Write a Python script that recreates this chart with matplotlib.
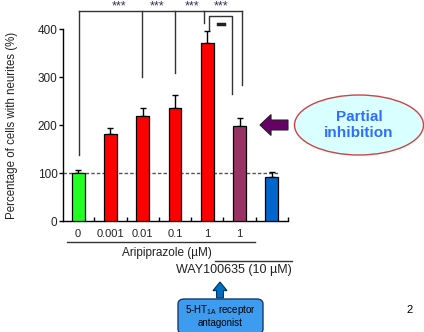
import matplotlib
matplotlib.use("Agg")
import matplotlib.pyplot as plt
from matplotlib.patches import Ellipse, FancyArrow, FancyBboxPatch
import numpy as np

plt.rcParams['font.family'] = ['Liberation Sans', 'DejaVu Sans']

# ---- data ----
categories = ["0", "0.001", "0.01", "0.1", "1", "1", ""]
values = [100, 181, 219, 235, 371, 198, 92]
errors = [6, 13, 17, 27, 25, 16, 10]
colors = ["#22ff22", "#ff0000", "#ff0000", "#ff0000", "#ff0000", "#993366", "#0066cc"]
baseline = 100
yticks = [0, 100, 200, 300, 400]

# significance brackets: (x positions, drop-to values), label positions
outer_top = 437
outer_drops_x = [0.03, 1.98, 3.0, 3.91, 5.06]
outer_drops_y = [137, 300, 308, 412, 283]
stars_x = [1.27, 2.44, 3.52, 4.44]
inner_top = 428
inner_x = [4.05, 4.78]
inner_drop_y = [398, 264]

W, H = 424, 332
fig = plt.figure(figsize=(W / 100, H / 100), dpi=100)

def fx(px):
    return px / W

def fy(py):
    return 1 - py / H

ax_left, ax_right, ax_bottom, ax_top = 63, 288, 221, 0
ax = fig.add_axes([fx(ax_left), fy(ax_bottom), fx(ax_right) - fx(ax_left), (ax_bottom - ax_top) / H])

x = np.arange(len(values))
ax.bar(x, values, width=0.4, color=colors, edgecolor="black", linewidth=0.9, zorder=3)
ax.errorbar(x, values, yerr=[np.zeros(len(errors)), errors], fmt="none",
            ecolor="black", elinewidth=1, capsize=2.5, capthick=1, zorder=2)

ax.set_xlim(-0.47, 6.5)
ax.set_ylim(0, 221 / 48 * 100)
ax.plot([-0.47, 6.2], [baseline, baseline], ls=(0, (2.5, 1.5)), color="#555555", lw=1, zorder=1)

for s in ["top", "right"]:
    ax.spines[s].set_visible(False)
ax.spines["left"].set_bounds(0, 400)
ax.spines["left"].set_linewidth(1)
ax.spines["bottom"].set_linewidth(1)
ax.set_yticks(yticks)
ax.tick_params(axis="y", direction="out", length=3, width=1, labelsize=8.5, pad=1, labelcolor="#222222")
ax.set_xticks([])
ax.set_xticks(np.arange(0.5, 7, 1), minor=True)
ax.tick_params(axis="x", which="minor", direction="in", length=3, width=1)
ax.set_ylabel("Percentage of cells with neurites (%)", fontsize=8.3, color="#222222")
ax.yaxis.set_label_coords(-0.2, 200 / (221 / 48 * 100))

# category labels
for xi, lab in zip(x, categories):
    if lab:
        ax.text(xi, -0.035, lab, transform=ax.get_xaxis_transform(), ha="center", va="top",
                fontsize=8, color="#222222")

# brackets
kw = dict(color="#333333", lw=1, clip_on=False)
ax.plot([outer_drops_x[0], outer_drops_x[-1]], [outer_top, outer_top], **kw)
for bx, by in zip(outer_drops_x, outer_drops_y):
    ax.plot([bx, bx], [outer_top, by], **kw)
for sx in stars_x:
    ax.text(sx, outer_top - 2, "***", ha="center", va="bottom", fontsize=9, color="#333355", clip_on=False)
ax.plot([inner_x[0], inner_x[0], inner_x[1], inner_x[1]],
        [inner_drop_y[0], inner_top, inner_top, inner_drop_y[1]], **kw)
ax.plot([4.32, 4.52], [411, 411], color="#222222", lw=2.5, clip_on=False)

# below-axis annotations (figure coords)
fig.add_artist(plt.Line2D([fx(67), fx(255)], [fy(242), fy(242)], color="#333333", lw=1))
fig.text(fx(167), fy(253), "Aripiprazole (µM)", ha="center", va="center", fontsize=8.5, color="#222222")
fig.add_artist(plt.Line2D([fx(215), fx(292)], [fy(261), fy(261)], color="#333333", lw=1))
fig.text(fx(176), fy(270), "WAY100635 (10 µM)", ha="left", va="center", fontsize=9, color="#222222")

# blue arrow
fig.add_artist(FancyArrow(fx(220), fy(298), 0, fy(282) - fy(298), width=0.016,
                          head_width=0.033, head_length=0.026, length_includes_head=True,
                          transform=fig.transFigure, color="#0070c0", ec="#003060", lw=0.8))
# box
fig.add_artist(FancyBboxPatch((fx(178), fy(334)), fx(263) - fx(178), fy(299) - fy(334),
                              boxstyle="round,pad=0,rounding_size=0.015", transform=fig.transFigure,
                              fc="#3d9cf0", ec="#1a3a6a", lw=1))
fig.text(fx(220), fy(310), r"5-HT$_{\mathregular{1A}}$ receptor", ha="center", va="center", fontsize=7)
fig.text(fx(220), fy(323), "antagonist", ha="center", va="center", fontsize=7)

# ellipse
fig.add_artist(Ellipse((fx(359), fy(125)), fx(424) - fx(295), (155 - 95) / H, transform=fig.transFigure,
                       fc="#d9ffff", ec="#cc4444", lw=1))
fig.text(fx(359), fy(125), "Partial\ninhibition", ha="center", va="center", fontsize=11,
         fontweight="bold", color="#2f6fff", linespacing=1.1)
# purple arrow
fig.add_artist(FancyArrow(fx(288), fy(125), fx(260) - fx(288), 0, width=0.03,
                          head_width=0.063, head_length=0.026, length_includes_head=True,
                          transform=fig.transFigure, color="#660066", ec="#222222", lw=0.8))

fig.text(fx(410), fy(310), "2", ha="center", va="center", fontsize=8)

fig.savefig("out.png", dpi=100)
